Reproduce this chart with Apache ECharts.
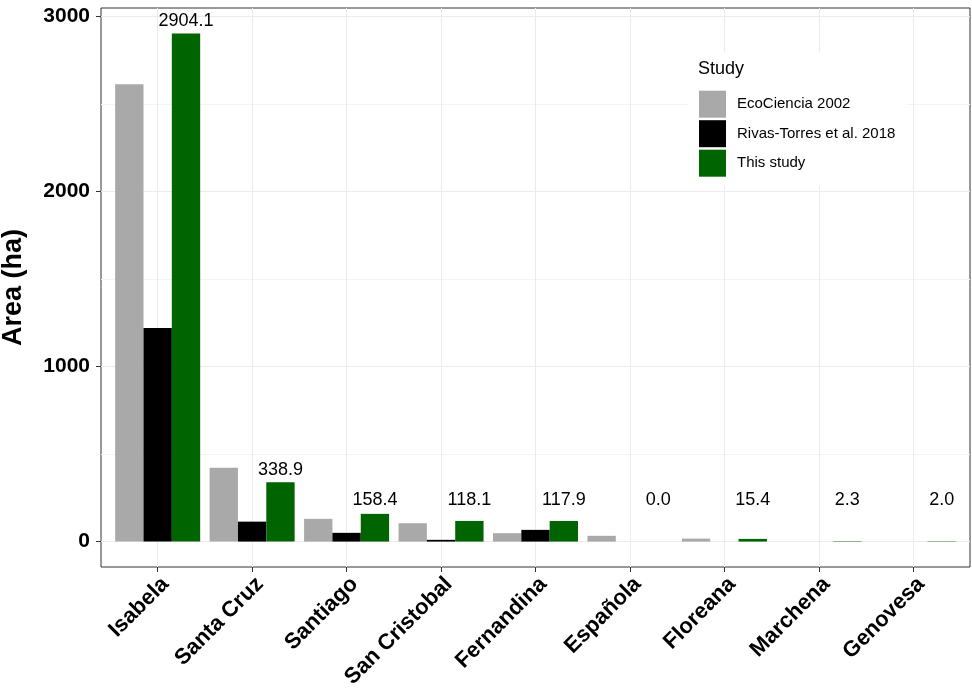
<!DOCTYPE html>
<html>
<head>
<meta charset="utf-8">
<script src="https://cdn.jsdelivr.net/npm/echarts@6/dist/echarts.min.js"></script>
<style>html,body{margin:0;padding:0;background:#fff;}#chart{width:972px;height:688px;}</style>
</head>
<body>
<div id="chart"></div>
<script>
const islands = ['Isabela', 'Santa Cruz', 'Santiago', 'San Cristobal', 'Fernandina', 'Española', 'Floreana', 'Marchena', 'Genovesa'];
const ecoCiencia2002 = [2614, 422, 130, 105, 48, 33, 17, '-', '-'];
const rivasTorres2018 = [1220, 114, 50, 10, 67, '-', '-', '-', '-'];
const thisStudy = [2904.1, 338.9, 158.4, 118.1, 117.9, 0.0, 15.4, 2.3, 2.0];
const seriesNames = ['EcoCiencia 2002', 'Rivas-Torres et al. 2018', 'This study'];
const yMajorTicks = [0, 1000, 2000, 3000];
const yMinorTicks = [500, 1500, 2500];

const FONT = 'Liberation Sans, Arial, sans-serif';
const Y_MIN = -145.2, Y_MAX = 3049.3;
const LABEL_FLOOR = 170;

const chart = echarts.init(document.getElementById('chart'), null, {renderer: 'canvas'});
chart.setOption({
  animation: false,
  backgroundColor: '#ffffff',
  textStyle: {fontFamily: FONT},
  title: {
    text: 'Study', left: 698, top: 60, padding: 0, z: 10,
    textStyle: {fontFamily: FONT, fontSize: 18, fontWeight: 'normal', color: '#000'}
  },
  legend: {
    data: seriesNames,
    orient: 'vertical',
    left: 688, top: 52,
    padding: [38.7, 11, 9, 11],
    backgroundColor: '#ffffff',
    itemWidth: 27, itemHeight: 27, itemGap: 2.5,
    icon: 'rect',
    selectedMode: false,
    textStyle: {fontFamily: FONT, fontSize: 15, color: '#000', padding: [0, 0, 0, 6]}
  },
  grid: [
    {left: 101, right: 2, top: 8, bottom: 121, show: true, borderColor: '#333333', borderWidth: 1, backgroundColor: 'transparent', containLabel: false, outerBoundsMode: 'none'},
    {left: 157.67, right: 58.67, top: 8, bottom: 121, containLabel: false, outerBoundsMode: 'none'}
  ],
  xAxis: [
    {type: 'value', gridIndex: 0, min: 0, max: 1, show: false},
    {
      type: 'category', gridIndex: 1, data: islands, boundaryGap: false,
      axisLine: {show: false, onZero: false},
      axisTick: {show: true, length: 5, lineStyle: {color: '#333333', width: 1}},
      splitLine: {show: true, lineStyle: {color: '#ebebeb', width: 1}},
      axisLabel: {
        rotate: 45, interval: 0, margin: 6, align: 'right', verticalAlign: 'top',
        fontFamily: FONT, fontSize: 22, fontWeight: 'bold', color: '#000'
      }
    }
  ],
  yAxis: [
    {
      type: 'value', gridIndex: 0, min: Y_MIN, max: Y_MAX,
      name: 'Area (ha)', nameLocation: 'middle', nameRotate: 90, nameGap: 74,
      nameTextStyle: {fontFamily: FONT, fontSize: 27, fontWeight: 'bold', color: '#000'},
      axisLine: {show: false},
      axisTick: {show: true, length: 5, customValues: yMajorTicks, lineStyle: {color: '#333333', width: 1}},
      axisLabel: {show: true, customValues: yMajorTicks, margin: 11, fontFamily: FONT, fontSize: 21, fontWeight: 'bold', color: '#000',
        formatter: v => String(Math.round(v))},
      splitLine: {show: true, lineStyle: {color: '#ebebeb', width: 1}}
    },
    {
      type: 'value', gridIndex: 0, min: Y_MIN, max: Y_MAX, position: 'right',
      axisLine: {show: false},
      axisTick: {show: false, customValues: yMinorTicks},
      axisLabel: {show: false, customValues: yMinorTicks},
      splitLine: {show: true, lineStyle: {color: '#f4f4f4', width: 1}}
    },
    {type: 'value', gridIndex: 1, min: Y_MIN, max: Y_MAX, show: false, splitLine: {show: false}}
  ],
  series: [
    {
      name: seriesNames[0], type: 'bar', xAxisIndex: 1, yAxisIndex: 2,
      data: ecoCiencia2002, barWidth: '30%', barGap: '0%',
      itemStyle: {color: '#a9a9a9'}, clip: false
    },
    {
      name: seriesNames[1], type: 'bar', xAxisIndex: 1, yAxisIndex: 2,
      data: rivasTorres2018, barWidth: '30%', barGap: '0%',
      itemStyle: {color: '#000000'}, clip: false
    },
    {
      name: seriesNames[2], type: 'bar', xAxisIndex: 1, yAxisIndex: 2, stack: 'study',
      data: thisStudy, barWidth: '30%', barGap: '0%',
      itemStyle: {color: '#006400'}, clip: false
    },
    {
      name: 'labels', type: 'bar', xAxisIndex: 1, yAxisIndex: 2, stack: 'study',
      data: thisStudy.map(v => Math.max(0, LABEL_FLOOR - v)),
      barWidth: '30%', barGap: '0%', clip: false,
      itemStyle: {color: 'rgba(0,0,0,0)'},
      emphasis: {disabled: true},
      silent: true,
      label: {
        show: true, position: 'top', distance: 3,
        fontFamily: FONT, fontSize: 18, color: '#000',
        formatter: p => thisStudy[p.dataIndex].toFixed(1)
      }
    }
  ]
});
</script>
</body>
</html>
